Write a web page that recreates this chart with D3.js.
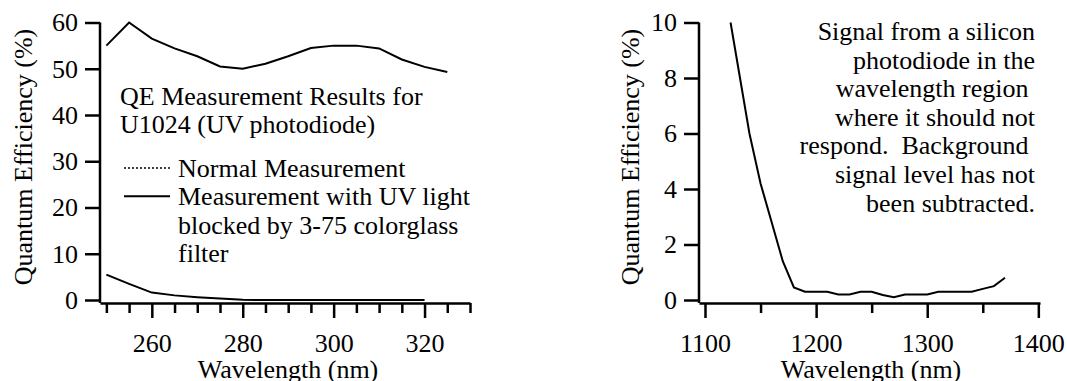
<!DOCTYPE html>
<html>
<head>
<meta charset="utf-8">
<script src="https://cdn.jsdelivr.net/npm/d3@7"></script>
<style>
  body { margin: 0; background: #fff; }
</style>
</head>
<body>
<div id="chart"></div>
<script>
// data

// left panel: QE of U1024 UV photodiode
const uvWave = [250, 255, 260, 265, 270, 275, 280, 285, 290, 295, 300, 305, 310, 315, 320, 325];
const uvNormal = [55, 60, 56.5, 54.4, 52.7, 50.5, 50, 51.1, 52.7, 54.5, 55, 55, 54.4, 52, 50.4, 49.3];
const blockWave = [250, 255, 260, 265, 270, 275, 280, 285, 290, 295, 300, 305, 310, 315, 320];
const uvBlocked = [5.5, 3.5, 1.6, 1.0, 0.6, 0.3, 0.05, 0, 0, 0, 0, 0, 0, 0, 0];
const leftYTicks = [0, 10, 20, 30, 40, 50, 60];
const leftXMajor = [260, 280, 300, 320];
const leftXMinor = [250, 255, 265, 270, 275, 285, 290, 295, 305, 310, 315, 325, 330];

// right panel: silicon photodiode signal in the IR
const irWave = [1123, 1140, 1150, 1160, 1170, 1180, 1190, 1200, 1210, 1220, 1230, 1240, 1250, 1260, 1270, 1280, 1290, 1300, 1310, 1320, 1330, 1340, 1350, 1360, 1370];
const irQE = [10, 6.0, 4.2, 2.8, 1.4, 0.45, 0.3, 0.3, 0.3, 0.2, 0.2, 0.3, 0.3, 0.18, 0.1, 0.2, 0.2, 0.2, 0.3, 0.3, 0.3, 0.3, 0.4, 0.5, 0.8];
const rightYTicks = [0, 2, 4, 6, 8, 10];
const rightXMajor = [1100, 1200, 1300, 1400];
const rightXMinor = [1150, 1250, 1350];

const leftNote = ["QE Measurement Results for", "U1024 (UV photodiode)"];
const legendItems = [
  {label: ["Normal Measurement"], dash: "2,2"},
  {label: ["Measurement with UV light", "blocked by 3-75 colorglass", "filter"], dash: null}
];
const rightNote = ["Signal from a silicon", "photodiode in the", "wavelength region\u00a0", "where it should not", "respond.\u00a0 Background\u00a0", "signal level has not", "been subtracted."];

const W = 1067, H = 381;
const FONT = '"Liberation Serif"';
const fontSize = 26;
const axisY = 303;

const svg = d3.select("#chart").append("svg")
  .attr("width", W)
  .attr("height", H);

// every text gets the serif font set on itself
function serif(sel) {
  sel.attr("font-family", FONT).attr("font-size", fontSize).attr("fill", "#000");
}

function styleAxis(g) {
  g.attr("font-family", FONT).attr("font-size", fontSize);
  g.selectAll("path, line").attr("stroke", "#000").attr("stroke-width", 2.5);
  g.selectAll("text").call(serif);
}

function panel(opt) {
  const x = d3.scaleLinear().domain(opt.xDomain).range(opt.xRange);
  const y = d3.scaleLinear().domain(opt.yDomain).range(opt.yRange);

  // y axis
  svg.append("g")
    .attr("transform", `translate(${opt.xRange[0]},0)`)
    .call(d3.axisLeft(y).tickValues(opt.yTicks).tickSize(15).tickPadding(7).tickSizeOuter(0))
    .call(styleAxis)
    .call(g => g.select(".domain").attr("d", `M0,${opt.yRange[1]}V${axisY}`));

  // x axis, long ticks with labels
  svg.append("g")
    .attr("transform", `translate(0,${axisY})`)
    .call(d3.axisBottom(x).tickValues(opt.xMajor).tickSize(15).tickPadding(16).tickFormat(d3.format("d")).tickSizeOuter(0))
    .call(styleAxis);

  // short ticks
  svg.append("g")
    .attr("transform", `translate(0,${axisY})`)
    .call(d3.axisBottom(x).tickValues(opt.xMinor).tickSize(10).tickFormat("").tickSizeOuter(0))
    .call(styleAxis)
    .call(g => g.select(".domain").remove());

  // axis titles
  svg.append("text")
    .attr("x", opt.xTitle)
    .attr("y", 378)
    .attr("text-anchor", "middle")
    .call(serif)
    .text("Wavelength (nm)");

  svg.append("text")
    .attr("transform", `translate(${opt.yTitle},157) rotate(-90)`)
    .attr("text-anchor", "middle")
    .call(serif)
    .text("Quantum Efficiency (%)");

  return {x, y};
}

const line = (sx, sy) => d3.line().x(d => sx(d[0])).y(d => sy(d[1]));

// ---- left panel
const L = panel({
  xDomain: [248.6, 330], xRange: [100, 470],
  yDomain: [0, 60], yRange: [300, 22.5],
  yTicks: leftYTicks, xMajor: leftXMajor, xMinor: leftXMinor,
  xTitle: 288, yTitle: 32
});

svg.append("path")
  .datum(uvWave.map((w, i) => [w, uvNormal[i]]))
  .attr("d", line(L.x, L.y))
  .attr("fill", "none").attr("stroke", "#000").attr("stroke-width", 2);

svg.append("path")
  .datum(blockWave.map((w, i) => [w, uvBlocked[i]]))
  .attr("d", line(L.x, L.y))
  .attr("fill", "none").attr("stroke", "#000").attr("stroke-width", 2);

svg.append("text")
  .attr("x", 120).attr("y", 105)
  .call(serif)
  .selectAll("tspan")
  .data(leftNote)
  .join("tspan")
    .attr("x", 120)
    .attr("dy", (d, i) => i ? 28 : 0)
    .text(d => d);

// legend
let ly = 177;
legendItems.forEach(item => {
  svg.append("line")
    .attr("x1", 124).attr("x2", 170)
    .attr("y1", ly - 9).attr("y2", ly - 9)
    .attr("stroke", "#000")
    .attr("stroke-width", item.dash ? 1.5 : 2)
    .attr("stroke-dasharray", item.dash);
  svg.append("text")
    .attr("x", 178).attr("y", ly)
    .call(serif)
    .selectAll("tspan")
    .data(item.label)
    .join("tspan")
      .attr("x", 178)
      .attr("dy", (d, i) => i ? 28.3 : 0)
      .text(d => d);
  ly += 28.3 * item.label.length;
});

// ---- right panel
const R = panel({
  xDomain: [1094.6, 1401.5], xRange: [699, 1040],
  yDomain: [0, 10], yRange: [300, 22.5],
  yTicks: rightYTicks, xMajor: rightXMajor, xMinor: rightXMinor,
  xTitle: 871, yTitle: 639
});

svg.append("path")
  .datum(irWave.map((w, i) => [w, irQE[i]]))
  .attr("d", line(R.x, R.y))
  .attr("fill", "none").attr("stroke", "#000").attr("stroke-width", 2);

svg.append("text")
  .attr("y", 40)
  .attr("text-anchor", "end")
  .call(serif)
  .selectAll("tspan")
  .data(rightNote)
  .join("tspan")
    .attr("x", 1035)
    .attr("dy", (d, i) => i ? 28.6 : 0)
    .text(d => d);
</script>
</body>
</html>
